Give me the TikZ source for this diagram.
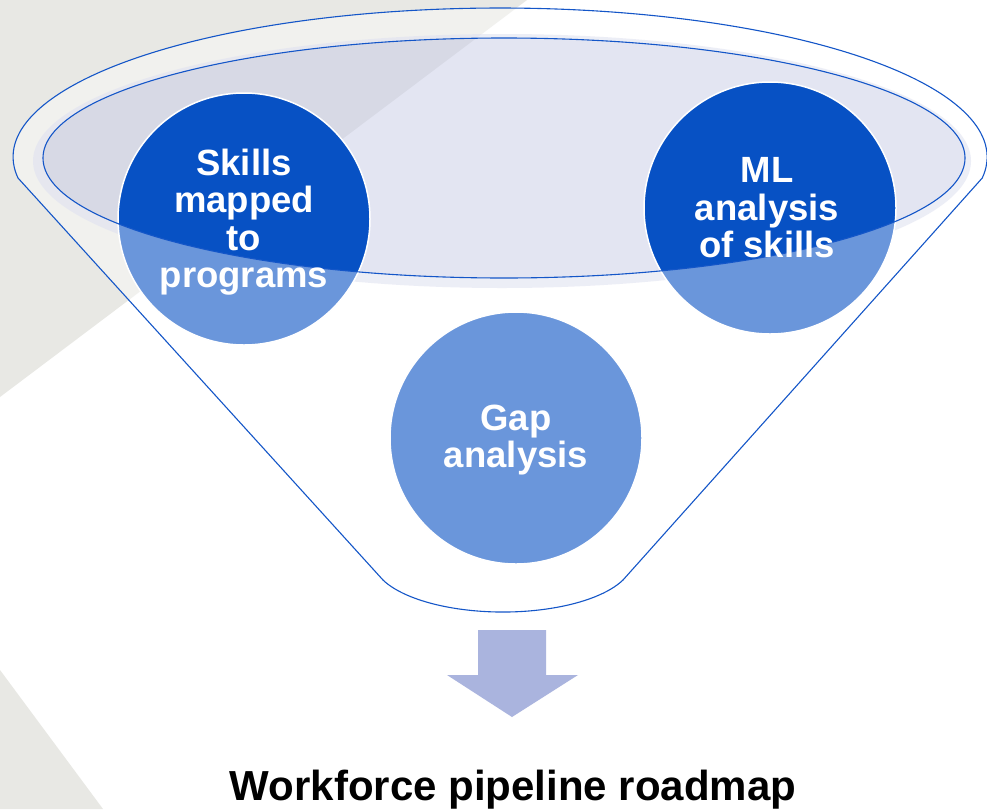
\documentclass[tikz,border=0pt]{standalone}
\usepackage{fontspec}
\setmainfont{Liberation Sans}
\definecolor{bggrey}{RGB}{232,232,228}
\definecolor{lav}{RGB}{200,204,231}
\definecolor{cblue}{RGB}{7,81,196}
\definecolor{lineblue}{RGB}{20,86,200}
\definecolor{arrowc}{RGB}{170,180,222}
\begin{document}
\begin{tikzpicture}[x=1pt,y=-1pt,
  bubble/.style={circle, fill=cblue, draw=white, line width=1.5pt, minimum size=252pt, inner sep=0pt},
  ctext/.style={text=white, font=\bfseries\fontsize{36.5}{37.5}\selectfont, align=center, inner sep=0pt},
  titletext/.style={text=black, font=\bfseries\fontsize{42}{48}\selectfont, inner sep=0pt},
  fline/.style={draw=lineblue, line width=1.1pt}]
\useasboundingbox (0,0) rectangle (987,809);
\fill[white] (0,0) rectangle (987,809);
% background greys
\fill[bggrey] (0,0) -- (527,0) -- (0,397) -- cycle;
\fill[bggrey] (0,670) -- (103,809) -- (0,809) -- cycle;
% halo ring around inner opening
\fill[lav, opacity=0.55, even odd rule] (502,161) ellipse [x radius=469, y radius=127]
      (504,158) ellipse [x radius=461, y radius=120];
% inner opening fill
\fill[lav, opacity=0.5] (504,158) ellipse [x radius=461, y radius=120];
% circles
\node[bubble] (skills) at (244,219) {};
\node[bubble] (ml) at (770,208) {};
\node[bubble] (gap) at (516,438) {};
% translucent funnel body
\fill[white, opacity=0.4, even odd rule]
  (18,178) arc[start angle=171.9, end angle=368.1, x radius=487, y radius=149]
  -- (623,580) arc[start angle=22.6, end angle=157.4, x radius=130, y radius=52] -- cycle
  (504,158) ellipse [x radius=461, y radius=120];
% outlines
\draw[fline]
  (18,178) arc[start angle=171.9, end angle=368.1, x radius=487, y radius=149]
  -- (623,580) arc[start angle=22.6, end angle=157.4, x radius=130, y radius=52] -- cycle;
\draw[fline] (504,158) ellipse [x radius=461, y radius=120];
% texts
\node[ctext] (skillsT) at ([yshift=-3pt]skills.center) {Skills\\mapped\\to\\programs};
\node[ctext] (mlT) at ([xshift=-3pt]ml.center) {ML\\analysis\\of skills};
\node[ctext] (gapT) at ([yshift=-2pt]gap.center) {Gap\\analysis};
% arrow
\fill[arrowc] (478,630) -- (546,630) -- (546,675) -- (578,675) -- (512,717) -- (447,675) -- (478,675) -- cycle;
% title
\node[titletext, anchor=base] (title) at (513,800) {Workforce pipeline roadmap};
\end{tikzpicture}
\end{document}
